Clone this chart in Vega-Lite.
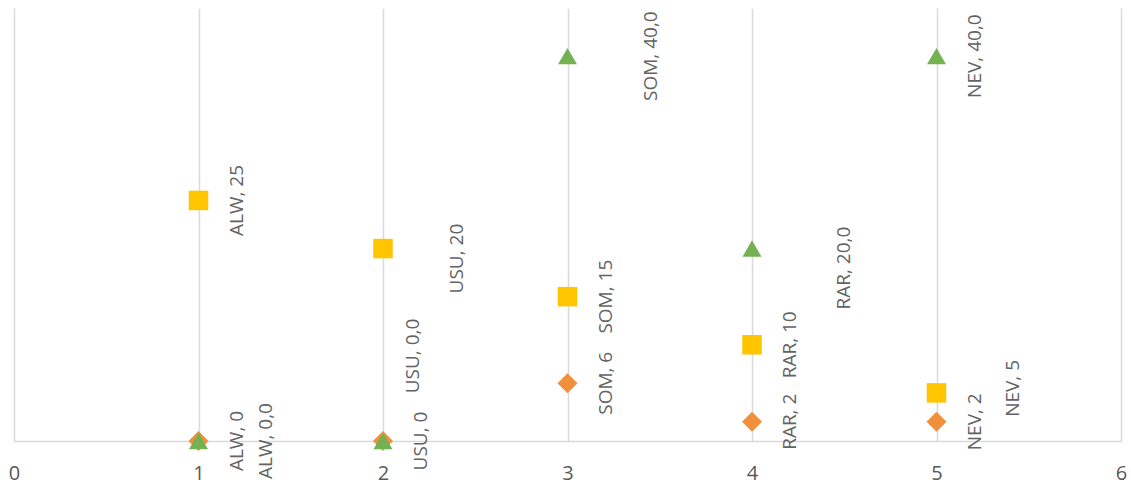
{
  "$schema": "https://vega.github.io/schema/vega-lite/v6.json",
  "width": 1107,
  "height": 433,
  "autosize": {"type": "none"},
  "padding": {"left": 14, "top": 8, "right": 10, "bottom": 51},
  "background": "white",
  "config": {"view": {"stroke": null}},
  "data": {
    "values": [
      {"cat": "ALW", "x": 1, "series": "A", "value": 0, "label": "ALW, 0"},
      {"cat": "USU", "x": 2, "series": "A", "value": 0, "label": "USU, 0"},
      {"cat": "SOM", "x": 3, "series": "A", "value": 6, "label": "SOM, 6"},
      {"cat": "RAR", "x": 4, "series": "A", "value": 2, "label": "RAR, 2"},
      {"cat": "NEV", "x": 5, "series": "A", "value": 2, "label": "NEV, 2"},
      {"cat": "ALW", "x": 1, "series": "B", "value": 25, "label": "ALW, 25"},
      {"cat": "USU", "x": 2, "series": "B", "value": 20, "label": "USU, 20"},
      {"cat": "SOM", "x": 3, "series": "B", "value": 15, "label": "SOM, 15"},
      {"cat": "RAR", "x": 4, "series": "B", "value": 10, "label": "RAR, 10"},
      {"cat": "NEV", "x": 5, "series": "B", "value": 5, "label": "NEV, 5"},
      {"cat": "ALW", "x": 1, "series": "C", "value": 0, "label": "ALW, 0,0"},
      {"cat": "USU", "x": 2, "series": "C", "value": 0, "label": "USU, 0,0"},
      {"cat": "SOM", "x": 3, "series": "C", "value": 40, "label": "SOM, 40,0"},
      {"cat": "RAR", "x": 4, "series": "C", "value": 20, "label": "RAR, 20,0"},
      {"cat": "NEV", "x": 5, "series": "C", "value": 40, "label": "NEV, 40,0"}
    ]
  },
  "encoding": {
    "x": {
      "field": "x",
      "type": "quantitative",
      "scale": {"domain": [0, 6], "nice": false},
      "axis": {
        "values": [0, 1, 2, 3, 4, 5, 6],
        "format": "d",
        "grid": true,
        "gridColor": "#D9D9D9",
        "gridWidth": 1.5,
        "domainColor": "#D9D9D9",
        "domainWidth": 1.5,
        "ticks": false,
        "labelPadding": 22,
        "labelFontSize": 20,
        "labelFont": "Open Sans",
        "labelColor": "#595959",
        "labelFlush": false,
        "title": null
      }
    },
    "y": {
      "field": "value",
      "type": "quantitative",
      "scale": {"domain": [0, 45], "nice": false},
      "axis": null
    }
  },
  "layer": [
    {
      "mark": {"type": "point", "filled": true, "opacity": 1, "strokeWidth": 0},
      "encoding": {
        "shape": {"field": "series", "type": "nominal", "scale": {"domain": ["A", "B", "C"], "range": ["diamond", "square", "triangle-up"]}, "legend": null},
        "color": {"field": "series", "type": "nominal", "scale": {"domain": ["A", "B", "C"], "range": ["#F0903A", "#FFC500", "#74B152"]}, "legend": null},
        "size": {"field": "series", "type": "ordinal", "scale": {"domain": ["A", "B", "C"], "range": [400, 361, 450]}, "legend": null}
      }
    },
    {
      "transform": [{"filter": {"not": {"field": "label", "oneOf": ["ALW, 0,0", "USU, 0,0", "SOM, 40,0", "RAR, 20,0", "NEV, 5", "USU, 20"]}}}],
      "mark": {"type": "text", "angle": 270, "align": "center", "baseline": "middle", "font": "Open Sans", "fontSize": 19, "color": "#636363", "dy": 38},
      "encoding": {"text": {"field": "label"}}
    },
    {
      "transform": [{"filter": {"field": "label", "equal": "ALW, 0,0"}}],
      "mark": {"type": "text", "angle": 270, "align": "center", "baseline": "middle", "font": "Open Sans", "fontSize": 19, "color": "#636363", "dy": 67},
      "encoding": {"text": {"field": "label"}}
    },
    {
      "transform": [{"filter": {"field": "label", "equal": "USU, 0,0"}}],
      "mark": {"type": "text", "angle": 270, "align": "center", "baseline": "middle", "font": "Open Sans", "fontSize": 19, "color": "#636363", "dy": 29.5, "dx": 85},
      "encoding": {"text": {"field": "label"}}
    },
    {
      "transform": [{"filter": {"field": "label", "equal": "SOM, 40,0"}}],
      "mark": {"type": "text", "angle": 270, "align": "center", "baseline": "middle", "font": "Open Sans", "fontSize": 19, "color": "#636363", "dy": 83},
      "encoding": {"text": {"field": "label"}}
    },
    {
      "transform": [{"filter": {"field": "label", "equal": "RAR, 20,0"}}],
      "mark": {"type": "text", "angle": 270, "align": "center", "baseline": "middle", "font": "Open Sans", "fontSize": 19, "color": "#636363", "dy": 92, "dx": -19.5},
      "encoding": {"text": {"field": "label"}}
    },
    {
      "transform": [{"filter": {"field": "label", "equal": "NEV, 5"}}],
      "mark": {"type": "text", "angle": 270, "align": "center", "baseline": "middle", "font": "Open Sans", "fontSize": 19, "color": "#636363", "dy": 76, "dx": 4.5},
      "encoding": {"text": {"field": "label"}}
    },
    {
      "transform": [{"filter": {"field": "label", "equal": "USU, 20"}}],
      "mark": {"type": "text", "angle": 270, "align": "center", "baseline": "middle", "font": "Open Sans", "fontSize": 19, "color": "#636363", "dy": 74, "dx": -10},
      "encoding": {"text": {"field": "label"}}
    }
  ]
}
